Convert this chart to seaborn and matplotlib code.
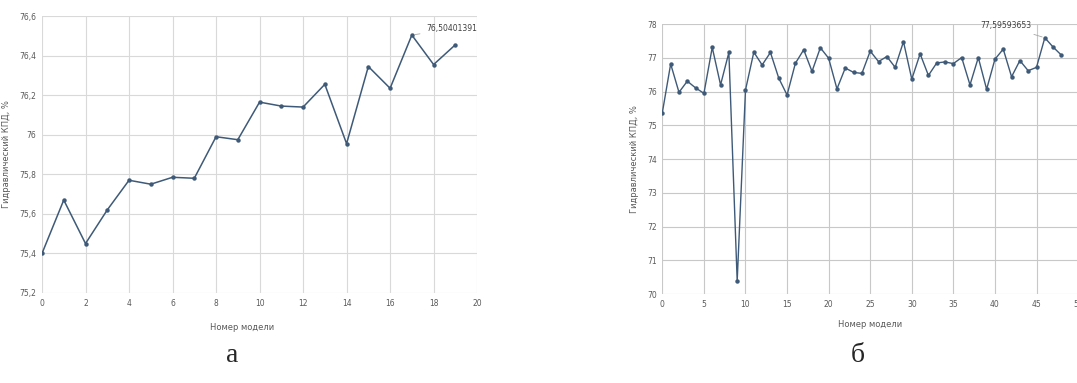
import numpy as np
import pandas as pd
import seaborn as sns
import matplotlib
matplotlib.use("Agg")
import matplotlib.pyplot as plt
from matplotlib.ticker import FuncFormatter, MultipleLocator

# данные (а): 20 моделей
model_a = list(range(20))
kpd_a = [75.40, 75.67, 75.45, 75.62, 75.77, 75.75, 75.785, 75.78, 75.99, 75.975,
         76.165, 76.145, 76.14, 76.255, 75.955, 76.345, 76.235, 76.50401391, 76.355, 76.455]
label_a = "76,50401391"

# данные (б): 49 моделей
model_b = list(range(49))
kpd_b = [75.38, 76.82, 75.98, 76.31, 76.11, 75.95, 77.31, 76.20, 77.16, 70.39,
         76.05, 77.17, 76.79, 77.16, 76.40, 75.90, 76.84, 77.24, 76.60, 77.30,
         76.99, 76.08, 76.70, 76.57, 76.54, 77.20, 76.89, 77.04, 76.72, 77.48,
         76.37, 77.12, 76.48, 76.85, 76.88, 76.83, 77.01, 76.20, 77.01, 76.07,
         76.96, 77.26, 76.44, 76.92, 76.62, 76.72, 77.59593653, 77.32, 77.08]
label_b = "77,59593653"

xlabel = "Номер модели"
ylabel = "Гидравлический КПД, %"

sns.set_style("whitegrid", {"grid.color": "#d9d9d9", "axes.edgecolor": "#d9d9d9"})
plt.rcParams['font.family'] = ['DejaVu Sans']

line_col = "#3e5a78"
tick_col = "#595959"

fig = plt.figure(figsize=(10.77, 3.83), dpi=100)
ax1 = fig.add_axes([0.039, 0.235, 0.404, 0.723])
ax2 = fig.add_axes([0.615, 0.232, 0.386, 0.705])

df_a = pd.DataFrame({"m": model_a, "k": kpd_a})
df_b = pd.DataFrame({"m": model_b, "k": kpd_b})

sns.lineplot(data=df_a, x="m", y="k", ax=ax1, color=line_col, marker="o",
             markersize=3.2, linewidth=1.1, markeredgewidth=0)
sns.lineplot(data=df_b, x="m", y="k", ax=ax2, color=line_col, marker="o",
             markersize=3.2, linewidth=1.0, markeredgewidth=0)

comma = FuncFormatter(lambda v, p: ("%g" % round(v, 2)).replace(".", ","))

ax1.set_xlim(0, 20)
ax1.set_ylim(75.2, 76.6)
ax1.xaxis.set_major_locator(MultipleLocator(2))
ax1.yaxis.set_major_locator(MultipleLocator(0.2))
ax1.yaxis.set_major_formatter(comma)

ax2.set_xlim(0, 50)
ax2.set_ylim(70, 78)
ax2.xaxis.set_major_locator(MultipleLocator(5))
ax2.yaxis.set_major_locator(MultipleLocator(1))

for ax, gc in ((ax1, "#d9d9d9"), (ax2, "#c8c8c8")):
    ax.grid(True, color=gc, linewidth=0.8)
    ax.tick_params(axis="both", labelsize=5.5, colors=tick_col, length=0, pad=4)
    ax.set_xlabel(xlabel, fontsize=6, color=tick_col, labelpad=5)
    ax.set_ylabel(ylabel, fontsize=6, color=tick_col, labelpad=6)
    for s in ax.spines.values():
        s.set_visible(False)
ax1.xaxis.set_label_coords(0.46, -0.11)
ax2.xaxis.set_label_coords(0.5, -0.095)

# подписи максимальных значений
i_a = int(np.argmax(kpd_a))
ax1.annotate(label_a, xy=(model_a[i_a], kpd_a[i_a]), xytext=(model_a[i_a] + 0.65, 76.535),
             fontsize=5.5, color="#404040", va="center", ha="left",
             arrowprops=dict(arrowstyle="-", color="#a6a6a6", lw=0.6))
i_b = int(np.argmax(kpd_b))
ax2.annotate(label_b, xy=(model_b[i_b], kpd_b[i_b]), xytext=(model_b[i_b] - 1.6, 77.95),
             fontsize=5.5, color="#404040", va="center", ha="right",
             arrowprops=dict(arrowstyle="-", color="#a6a6a6", lw=0.6))

fig.text(0.2155, 0.072, "а", fontsize=20, family="Liberation Serif", ha="center", va="center")
fig.text(0.796, 0.072, "б", fontsize=20, family="Liberation Serif", ha="center", va="center")

fig.savefig("out.png", dpi=100)
